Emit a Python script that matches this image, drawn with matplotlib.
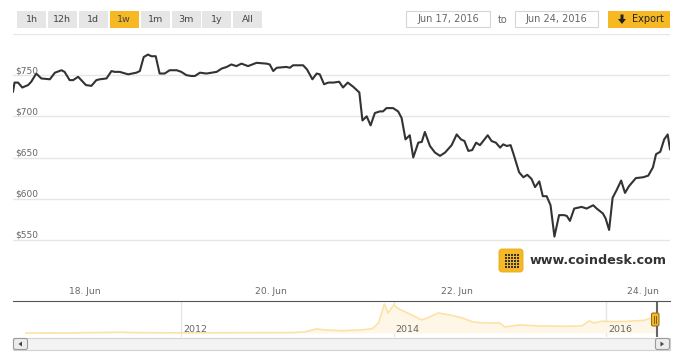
import numpy as np
import pandas as pd
import matplotlib
matplotlib.use('Agg')
import matplotlib.pyplot as plt
import matplotlib.dates as mdates
import matplotlib.transforms as mtransforms
from matplotlib.patches import Rectangle, FancyBboxPatch, Polygon

# --- data --------------------------------------------------------------
# hours since 2016-06-17 00:00 and BPI price in USD
hours = [5.5, 5.9, 6.8, 7.9, 9.4, 10.2, 11.5, 12.8, 15.0, 16.3, 18.0, 18.8,
         20.1, 21.0, 22.3, 24.3, 25.7, 27.0, 27.9, 29.6, 30.9, 31.7, 33.0,
         35.2, 37.3, 38.2, 39.2, 40.3, 41.2, 42.3, 43.3, 44.6, 45.9, 47.7,
         48.9, 50.2, 51.5, 52.4, 53.7, 55.4, 56.7, 58.0, 59.3, 60.6, 61.8,
         63.1, 64.4, 66.1, 68.3, 70.9, 71.7, 72.6, 73.5, 76.0, 76.9, 77.7,
         80.3, 81.3, 82.7, 83.8, 84.6, 85.7, 86.8, 88.1, 89.6, 90.6, 91.8,
         93.2, 94.8, 95.6, 96.7, 97.7, 98.8, 100.1, 100.9, 101.8, 103.5,
         104.8, 105.7, 106.7, 107.8, 108.7, 110.0, 110.9, 111.7, 113.0,
         114.3, 115.6, 116.9, 118.6, 119.9, 121.0, 121.9, 122.9, 123.9,
         124.9, 125.9, 127.9, 128.9, 130.0, 131.1, 131.9, 132.8, 133.8,
         134.5, 136.0, 137.1, 138.1, 139.2, 140.1, 141.2, 142.1, 143.1,
         144.1, 145.1, 146.3, 147.6, 148.3, 149.1, 150.2, 152.1, 153.4,
         155.1, 156.0, 157.6, 158.3, 159.2, 160.1, 161.2, 162.3, 163.3,
         164.3, 166.1, 168.0, 169.3, 170.5, 171.3, 172.4, 173.4, 174.3, 174.9]
prices = [730, 741, 741, 735, 738, 742, 752, 746, 745, 753, 756, 754,
          744, 744, 748, 738, 737, 744, 745, 746, 755, 754, 754,
          751, 753, 755, 772, 775, 773, 773, 752, 752, 756, 756,
          754, 750, 749, 749, 753, 752, 753, 754, 758, 760, 763,
          761, 764, 761, 765, 764, 763, 755, 759, 760, 759, 762,
          762, 757, 745, 752, 751, 739, 741, 741, 742, 735, 741,
          736, 729, 695, 700, 689, 704, 706, 706, 710, 710,
          706, 698, 672, 677, 650, 668, 669, 681, 664,
          656, 652, 656, 665, 678, 672, 670, 658, 659,
          668, 665, 677, 670, 668, 662, 666, 664, 665,
          655, 632, 626, 629, 624, 614, 621, 603, 603,
          592, 554, 580, 580, 579, 573, 588, 590, 588,
          592, 588, 582, 576, 562, 601, 611, 622, 607,
          615, 625, 626, 628, 638, 654, 657, 672, 678, 660]

y_labels = [550, 600, 650, 700, 750]
y_grid = [550, 600, 650, 700, 750, 800]
x_ticks = ['2016-06-18', '2016-06-20', '2016-06-22', '2016-06-24']

# navigator: full price history (coarse)
nav_dates = ['2010-07-17', '2010-12-15', '2011-06-08', '2011-08-15', '2012-01-15',
             '2012-08-15', '2013-01-15', '2013-03-01', '2013-04-10', '2013-05-10',
             '2013-07-10', '2013-09-15', '2013-10-20', '2013-11-10', '2013-11-30',
             '2013-12-13', '2014-01-01', '2014-01-20', '2014-02-18', '2014-03-04',
             '2014-04-08', '2014-04-26', '2014-06-03', '2014-07-13', '2014-08-25',
             '2014-10-01', '2014-11-03', '2015-01-01', '2015-01-18', '2015-03-10',
             '2015-05-18', '2015-08-15', '2015-10-10', '2015-11-05', '2015-11-20',
             '2015-12-20', '2016-01-20', '2016-03-10', '2016-05-10', '2016-06-17',
             '2016-06-24']
nav_prices = [0, 2, 30, 10, 6,
              10, 15, 40, 160, 120,
              90, 125, 170, 400, 1150,
              790, 1110, 950, 794, 714,
              516, 595, 794, 714, 595,
              437, 400, 397, 238, 318,
              278, 265, 280, 480, 400,
              470, 450, 460, 500, 640,
              600]
nav_years = ['2012-01-01', '2014-01-01', '2016-01-01']

ranges = ['1h', '12h', '1d', '1w', '1m', '3m', '1y', 'All']

YELLOW = '#f7b923'
GRAY_TXT = '#666666'

times = pd.Timestamp('2016-06-17') + pd.to_timedelta(hours, unit='h')

fig = plt.figure(figsize=(6.8, 3.58), dpi=100)
W, H = 680, 358

def rect(x0, y0, x1, y1):
    return [x0 / W, 1 - y1 / H, (x1 - x0) / W, (y1 - y0) / H]

# main chart
ax = fig.add_axes(rect(13, 34, 670, 281))
ax.plot(times, prices, color='#333333', lw=1.5, solid_joinstyle='round')
ax.set_ylim(500, 800)
ax.set_xlim(times[0], times[-1])
ax.set_yticks(y_grid)
ax.yaxis.grid(True, color='#e6e6e6', lw=1)
ax.set_axisbelow(True)
ax.tick_params(axis='y', length=0, labelleft=False)
ax.set_xticks(pd.to_datetime(x_ticks))
ax.xaxis.set_major_formatter(mdates.DateFormatter('%d. %b'))
ax.tick_params(axis='x', length=0, pad=4.5, labelsize=6.6, labelcolor=GRAY_TXT)
for s in ax.spines.values():
    s.set_visible(False)
lab_tr = mtransforms.offset_copy(ax.get_yaxis_transform(), fig=fig, x=2, y=2, units='dots')
for v in y_labels:
    ax.text(0, v, '$%d' % v, transform=lab_tr, fontsize=6.5, color=GRAY_TXT,
            ha='left', va='baseline')

# navigator
nav = fig.add_axes(rect(13, 301, 670, 337))
nd = pd.to_datetime(nav_dates)
nav.fill_between(nd, nav_prices, 0, color='#fef7e8', lw=0)
nav.plot(nd, nav_prices, color='#fde2a6', lw=1.2)
d12 = mdates.date2num(pd.Timestamp('2012-01-01'))
d16 = mdates.date2num(pd.Timestamp('2016-01-01'))
ppd = 425 / (d16 - d12)
nav.set_xlim(d12 - 168 / ppd, d16 + 64 / ppd)
nav.set_ylim(-159, 1269)
nav.set_xticks(pd.to_datetime(nav_years))
nav.xaxis.grid(True, color='#e6e6e6', lw=1)
nav.set_axisbelow(True)
nav.tick_params(length=0, labelbottom=False, labelleft=False)
nav.set_yticks([])
for k, s in nav.spines.items():
    s.set_visible(k == 'top')
nav.spines['top'].set_color('#555555')
yr_tr = mtransforms.offset_copy(nav.get_xaxis_transform(), fig=fig, x=2, units='dots')
for d in nav_years:
    nav.text(pd.Timestamp(d), 0.22, d[:4], transform=yr_tr, fontsize=6.8,
             color=GRAY_TXT, ha='left', va='center')
nav.axvline(times[-1], color='#666666', lw=1.5)

# overlay in pixel units for the UI chrome
ov = fig.add_axes([0, 0, 1, 1])
ov.set_xlim(0, W)
ov.set_ylim(H, 0)
ov.axis('off')
ov.patch.set_visible(False)

for i, lab in enumerate(ranges):
    x0 = 17 + i * 30.9
    ov.add_patch(Rectangle((x0, 11), 29, 17, facecolor=YELLOW if lab == '1w' else '#e6e6e6',
                           edgecolor='none'))
    ov.text(x0 + 14.5, 19.5, lab, fontsize=6.8, color='#444444', ha='center', va='center')

for x0, x1, txt in [(406, 490, 'Jun 17, 2016'), (515, 598, 'Jun 24, 2016')]:
    ov.add_patch(Rectangle((x0, 11), x1 - x0, 16, facecolor='white', edgecolor='#d6d6d6', lw=0.8))
    ov.text((x0 + x1) / 2, 19.5, txt, fontsize=7, color=GRAY_TXT, ha='center', va='center')
ov.text(503, 20, 'to', fontsize=7, color=GRAY_TXT, ha='center', va='center')

ov.add_patch(Rectangle((608, 11), 62, 17, facecolor=YELLOW, edgecolor='none'))
ov.add_patch(Polygon([(620.5, 14.5), (623.5, 14.5), (623.5, 19), (626, 19), (622, 24),
                      (618, 19), (620.5, 19)], closed=True, facecolor='#222222'))
ov.text(648, 19.5, 'Export', fontsize=7, color='#222222', ha='center', va='center')

# logo
ov.add_patch(FancyBboxPatch((499, 249), 24, 23, boxstyle='round,pad=0,rounding_size=3',
                            facecolor=YELLOW, edgecolor='#e6a817', lw=0.6))
for gx in range(5):
    for gy in range(5):
        ov.add_patch(Rectangle((504.6 + gx * 3, 253.6 + gy * 3), 2.3, 2.3,
                               facecolor='#333333', edgecolor='none'))
ov.text(530, 261, 'www.coindesk.com', fontsize=9.2, fontweight='bold', color='#333333',
        ha='left', va='center')

# navigator handle
ov.add_patch(FancyBboxPatch((651.5, 313), 7.5, 13, boxstyle='round,pad=0,rounding_size=1.5',
                            facecolor=YELLOW, edgecolor='#8a6a10', lw=0.7))
ov.plot([654.3, 654.3], [316, 323], color='#6b5210', lw=0.6)
ov.plot([656.3, 656.3], [316, 323], color='#6b5210', lw=0.6)

# scrollbar
ov.add_patch(Rectangle((13, 338), 657, 12, facecolor='#f3f3f3', edgecolor='#d2d2d2', lw=0.8))
for bx, pts in [(13, [(22, 341.5), (22, 346.5), (18.5, 344)]),
                (655, [(660.5, 341.5), (660.5, 346.5), (664, 344)])]:
    ov.add_patch(FancyBboxPatch((bx + 0.5, 338.5), 14, 11, boxstyle='round,pad=0,rounding_size=2',
                                facecolor='#ececec', edgecolor='#9a9a9a', lw=0.8))
    ov.add_patch(Polygon(pts, closed=True, facecolor='#444444'))

fig.savefig('out.png', dpi=100)
